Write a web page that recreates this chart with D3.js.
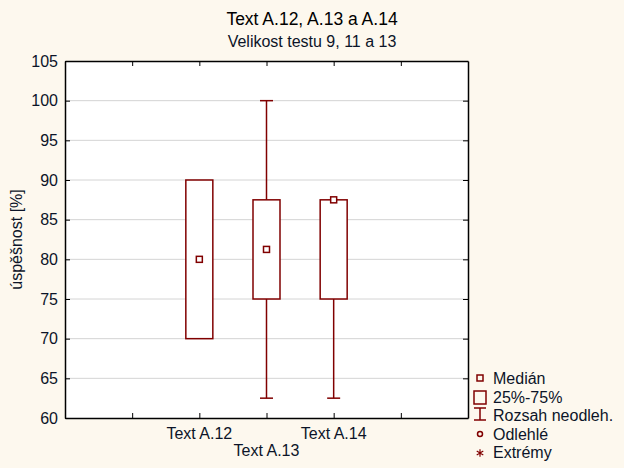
<!DOCTYPE html>
<html>
<head>
<meta charset="utf-8">
<script src="https://cdn.jsdelivr.net/npm/d3@7"></script>
<style>
  body { margin: 0; background: #fdf8ee; }
  svg { display: block; font-family: "Liberation Sans", Arial, sans-serif; }
</style>
</head>
<body>
<div class="chart"></div>
<script>
// data
var categories = ["Text A.12", "Text A.13", "Text A.14"];
var positions = [2, 3, 4];          // x position of each box on the 0..6 axis
var labelRow = [0, 1, 0];           // staggered category labels
var medians = [80, 81.25, 87.5];
var q25 = [70, 75, 75];
var q75 = [90, 87.5, 87.5];
var whiskLow = [70, 62.5, 62.5];
var whiskHigh = [90, 100, 87.5];
var yTicks = [60, 65, 70, 75, 80, 85, 90, 95, 100, 105];
var xTicks = [1, 2, 3, 4, 5];
var legendItems = ["Medián", "25%-75%", "Rozsah neodleh.", "Odlehlé", "Extrémy"];

var width = 624, height = 468;
var margin = { top: 61, bottom: 50, left: 65, right: 156 };
var red = "#800000";
var ink = "#0c1428";

var svg = d3.select("div.chart").append("svg").attr("width", width).attr("height", height);

var xScale = d3.scaleLinear().domain([0, 6]).range([margin.left, width - margin.right]);
var yScale = d3.scaleLinear().domain([60, 105]).range([height - margin.bottom, margin.top]);

// plot area
svg.append("rect")
  .attr("x", margin.left).attr("y", margin.top)
  .attr("width", width - margin.left - margin.right)
  .attr("height", height - margin.top - margin.bottom)
  .attr("fill", "white");

// grid
svg.append("g").selectAll("line")
  .data(yTicks.slice(1, -1))
  .enter().append("line")
  .attr("x1", margin.left).attr("x2", width - margin.right)
  .attr("y1", function(d) { return yScale(d); })
  .attr("y2", function(d) { return yScale(d); })
  .attr("stroke", "#d4d4d4").attr("stroke-width", 1);

// axes (ticks pointing inside)
var axisLeft = d3.axisLeft(yScale).tickValues(yTicks).tickSizeInner(-5).tickSizeOuter(0).tickPadding(7);
var axisRight = d3.axisRight(yScale).tickValues(yTicks).tickSizeInner(-5).tickSizeOuter(0).tickFormat("");
var axisTop = d3.axisTop(xScale).tickValues(xTicks).tickSizeInner(-5).tickSizeOuter(0).tickFormat("");
var axisBottom = d3.axisBottom(xScale).tickValues(xTicks).tickSizeInner(-5).tickSizeOuter(0).tickFormat("");

var gl = svg.append("g").attr("transform", "translate(" + margin.left + ",0)").call(axisLeft);
svg.append("g").attr("transform", "translate(" + (width - margin.right) + ",0)").call(axisRight);
svg.append("g").attr("transform", "translate(0," + margin.top + ")").call(axisTop);
svg.append("g").attr("transform", "translate(0," + (height - margin.bottom) + ")").call(axisBottom);

svg.selectAll(".domain").attr("stroke", "black").attr("stroke-width", 1.5);
svg.selectAll(".tick line").attr("stroke", "black");
gl.selectAll("text").attr("font-size", "16px").attr("fill", ink)
  .attr("font-family", "Liberation Sans, Arial, sans-serif");

// category labels
svg.append("g").selectAll("text")
  .data(categories)
  .enter().append("text")
  .attr("x", function(d, i) { return xScale(positions[i]); })
  .attr("y", function(d, i) { return height - margin.bottom + 21 + labelRow[i] * 17; })
  .attr("text-anchor", "middle")
  .attr("font-size", "16px").attr("fill", ink)
  .text(function(d) { return d; });

// titles
svg.append("text").attr("x", 312).attr("y", 25).attr("text-anchor", "middle")
  .attr("font-size", "17.5px").attr("fill", "black").text("Text A.12, A.13 a A.14");
svg.append("text").attr("x", 312).attr("y", 47).attr("text-anchor", "middle")
  .attr("font-size", "16px").attr("fill", ink).text("Velikost testu 9, 11 a 13");

// y label
svg.append("text")
  .attr("transform", "rotate(-90)")
  .attr("x", -(margin.top + (height - margin.top - margin.bottom) / 2))
  .attr("y", 22)
  .attr("text-anchor", "middle")
  .attr("font-size", "16px").attr("fill", ink)
  .text("úspěšnost [%]");

// boxes
var boxW = 27, capW = 13, medS = 6;
var g = svg.append("g").attr("stroke", red).attr("stroke-width", 1.5).attr("fill", "none");

categories.forEach(function(c, i) {
  var cx = xScale(positions[i]);
  // whiskers
  if (whiskHigh[i] > q75[i]) {
    g.append("line").attr("x1", cx).attr("x2", cx).attr("y1", yScale(q75[i])).attr("y2", yScale(whiskHigh[i]));
    g.append("line").attr("x1", cx - capW / 2).attr("x2", cx + capW / 2).attr("y1", yScale(whiskHigh[i])).attr("y2", yScale(whiskHigh[i]));
  }
  if (whiskLow[i] < q25[i]) {
    g.append("line").attr("x1", cx).attr("x2", cx).attr("y1", yScale(q25[i])).attr("y2", yScale(whiskLow[i]));
    g.append("line").attr("x1", cx - capW / 2).attr("x2", cx + capW / 2).attr("y1", yScale(whiskLow[i])).attr("y2", yScale(whiskLow[i]));
  }
  g.append("rect")
    .attr("x", cx - boxW / 2).attr("y", yScale(q75[i]))
    .attr("width", boxW).attr("height", yScale(q25[i]) - yScale(q75[i]))
    .attr("fill", "white");
  g.append("rect")
    .attr("x", cx - medS / 2).attr("y", yScale(medians[i]) - medS / 2)
    .attr("width", medS).attr("height", medS)
    .attr("fill", "white");
});

// legend
var lx = 480, tx = 493;
var rows = [378, 397, 415, 434, 452];
var lg = svg.append("g");
lg.selectAll("text").data(legendItems).enter().append("text")
  .attr("x", tx).attr("y", function(d, i) { return rows[i] + 6; })
  .attr("font-size", "16px").attr("fill", ink)
  .text(function(d) { return d; });

var ls = lg.append("g").attr("stroke", red).attr("stroke-width", 1.5).attr("fill", "none");
ls.append("rect").attr("x", lx - 3).attr("y", rows[0] - 3).attr("width", 6).attr("height", 6);
ls.append("rect").attr("x", lx - 6).attr("y", rows[1] - 6).attr("width", 12).attr("height", 13);
ls.append("line").attr("x1", lx).attr("x2", lx).attr("y1", rows[2] - 7).attr("y2", rows[2] + 5);
ls.append("line").attr("x1", lx - 6).attr("x2", lx + 6).attr("y1", rows[2] - 7).attr("y2", rows[2] - 7);
ls.append("line").attr("x1", lx - 6).attr("x2", lx + 6).attr("y1", rows[2] + 5).attr("y2", rows[2] + 5);
ls.append("circle").attr("cx", lx).attr("cy", rows[3]).attr("r", 2.5);
ls.append("path").attr("d", d3.symbol(d3.symbolAsterisk, 40)())
  .attr("transform", "translate(" + lx + "," + (rows[4] + 1) + ")").attr("stroke-width", 1.2);
</script>
</body>
</html>
